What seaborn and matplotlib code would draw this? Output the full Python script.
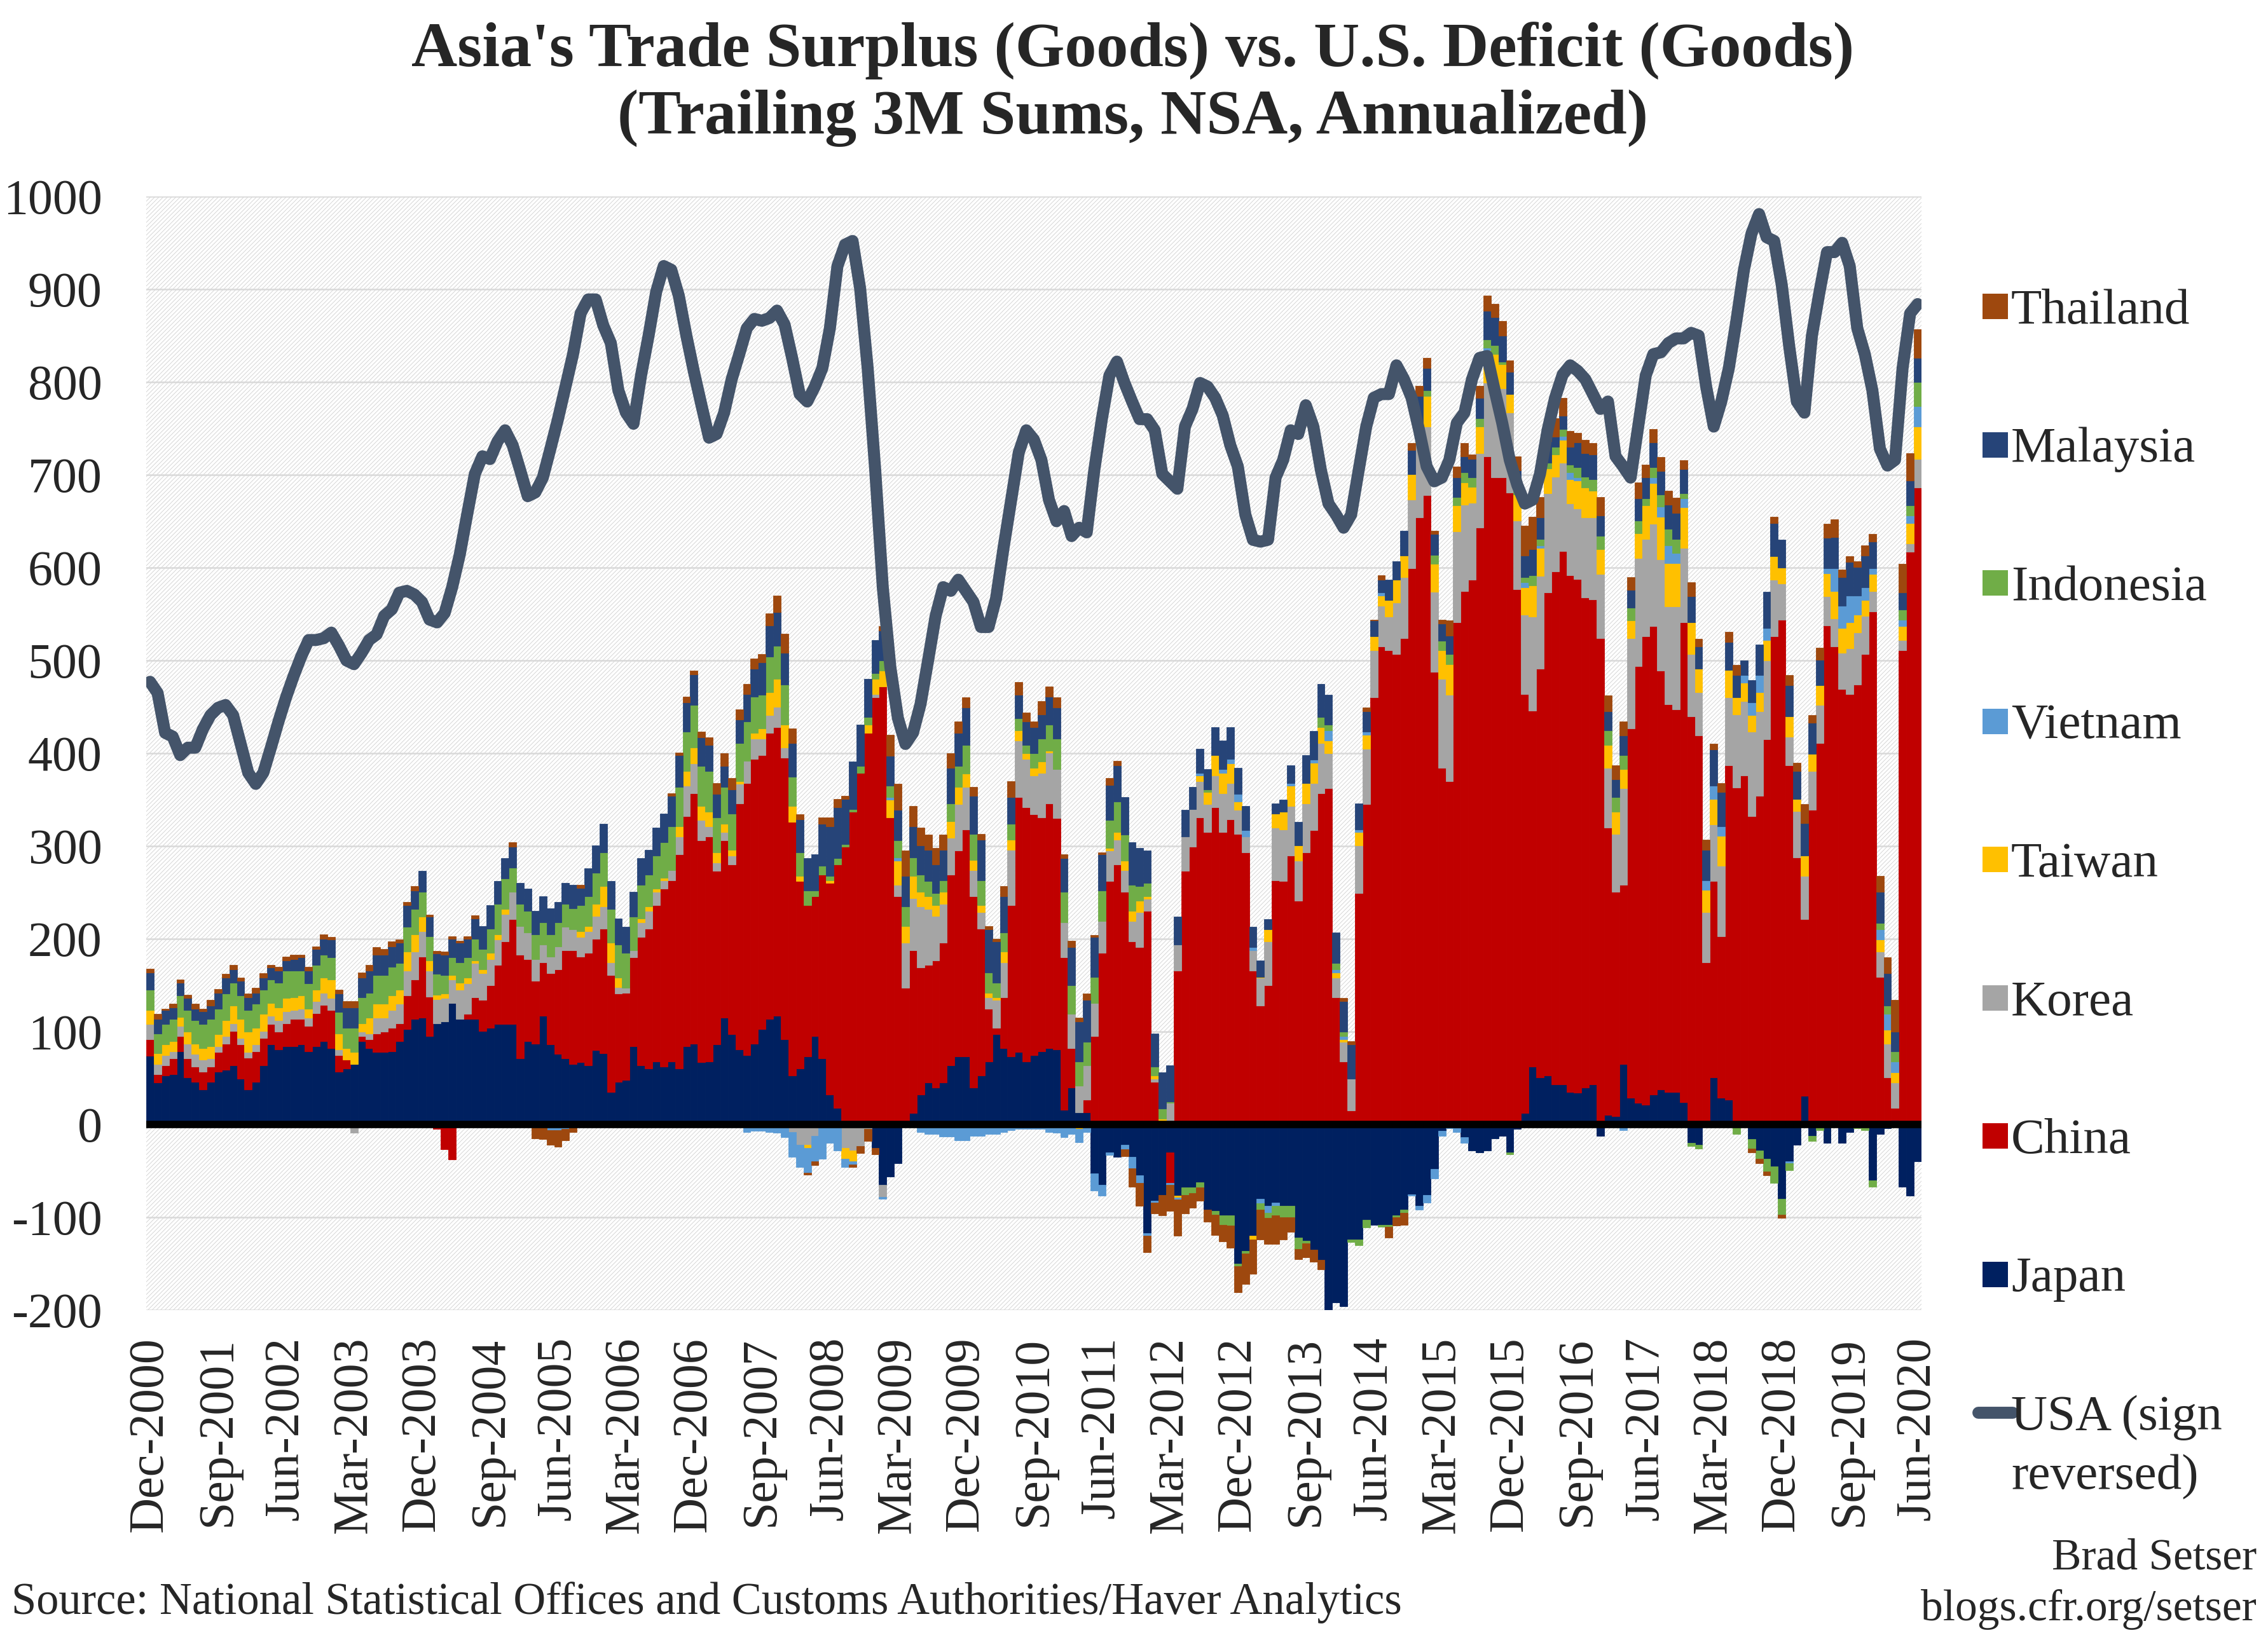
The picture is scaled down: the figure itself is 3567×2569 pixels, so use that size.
import numpy as np
import pandas as pd
import matplotlib.pyplot as plt
from matplotlib.patches import Rectangle
from matplotlib.lines import Line2D
import seaborn as sns

# x axis tick labels (every 9 months, Dec-2000 .. Jun-2020, 235 monthly bars)
tick_labels = ["Dec-2000", "Sep-2001", "Jun-2002", "Mar-2003", "Dec-2003", "Sep-2004",
               "Jun-2005", "Mar-2006", "Dec-2006", "Sep-2007", "Jun-2008", "Mar-2009",
               "Dec-2009", "Sep-2010", "Jun-2011", "Mar-2012", "Dec-2012", "Sep-2013",
               "Jun-2014", "Mar-2015", "Dec-2015", "Sep-2016", "Jun-2017", "Mar-2018",
               "Dec-2018", "Sep-2019", "Jun-2020"]

# trade balances, $bn (trailing 3m sums annualized)
japan = [74, 45, 53, 54, 79, 51, 46, 38, 46, 57, 59, 64, 49, 38, 46, 64, 86, 81, 84, 84,
         86, 79, 84, 90, 82, 57, 60, 65, 90, 82,
         78, 78, 79, 90, 103, 114, 115, 95, 109, 111, 131, 114, 114, 114, 101, 104, 108, 108, 108, 71,
         90, 87, 117, 86, 76, 71, 65, 67, 64, 80,
         77, 35, 46, 48, 84, 64, 60, 68, 62, 68, 60, 84, 87, 67, 68, 86, 115, 97, 81, 75,
         87, 103, 114, 117, 92, 53, 60, 73, 95,
         71, 32, 18, 0, 0, -3, 0, -25, -65, -56, -42, 0, 12, 32, 45, 40, 45, 64, 73, 73,
         40, 53, 68, 97, 82, 73, 78, 68, 75,
         79, 82, 81, 16, 40, 13, 13, -53, -65, -30, -35, -22, -35,
         -55, -117, -82, -76, -30, -77, -68, -68, -62, -92, -93, -98, -98, -150, -136, -120,
         -80, -88, -84, -88, -88, -122, -125, -135, -146, -205, -192, -196, -124, -124, -103, -108,
         -108, -108, -98, -92, -75, -88, -76, -48, -7, 0, -4, -14, -28, -30,
         -28, -15, -12, -30, -5, 12, 62, 51, 53, 43, 43, 35, 34, 40, 43, -12, 10, 9, 65, 29,
         23, 21, 32, 38, 35, 35, 24, -20, -22,
         -3, 51, 29, 27, 0, 0, -16, -28, -37, -45, -80, -40, -22, 31, -12, 0, -20, 5, -20, -8,
         0, 0, -60, -10, -4, 5, -67, -77, -40]

china = [18, 9, 11, 17, 16, 20, 16, 19, 16, 21, 28, 37, 37, 34, 33, 29, 22, 19, 25, 30,
         28, 27, 36, 39, 41, 18, 10, 0, 5, 10,
         20, 22, 25, 19, 36, 42, 66, 43, -5, -27, -38, 0, 5, 23, 33, 46, 64, 89, 113, 112,
         88, 68, 58, 77, 91, 117, 123, 114, 121, 120,
         134, 126, 95, 94, 96, 138, 151, 168, 192, 195, 231, 248, 270, 239, 242, 187, 191, 183, 265, 293,
         307, 295, 308, 311, 303, 273, 202, 163, 151,
         198, 228, 262, 299, 337, 379, 422, 460, 472, 331, 246, 147, 176, 137, 127, 137, 151, 205, 222, 245,
         206, 158, 57, 7, 55, 163, 275, 274, 259,
         252, 264, 249, 164, 42, -3, 14, 95, 185, 262, 280, 251, 197,
         191, 230, 46, 0, -33, 166, 273, 299, 331, 315, 342, 315, 329, 313, 293, 166,
         128, 150, 263, 262, 290, 241, 293, 317, 357, 362, 137, 68, 15, 249, 345, 460,
         515, 511, 507, 524, 599, 654, 678, 488, 384, 370, 541, 575, 587, 643,
         720, 697, 697, 681, 577, 452, 384, 440, 520, 553, 575, 557, 554, 528, 523, 524, 310, 242, 193, 398,
         471, 505, 505, 451, 418, 412, 517, 440, 419,
         175, 211, 174, 360, 363, 376, 332, 354, 415, 526, 544, 387, 288, 190, 339, 411, 538, 510, 469, 464,
         474, 507, 553, 159, 51, 13, 511, 617, 686]

korea = [16, 11, 11, 8, 11, 16, 14, 13, 9, 6, 8, 8, 7, 6, 7, 8, 9, 12, 13, 9,
         11, 9, 13, 13, 13, 6, 0, -9, 5, 6,
         17, 15, 19, 21, 27, 30, 27, 28, 26, 25, 25, 31, 33, 37, 29, 28, 27, 30, 30, 31,
         29, 23, 19, 18, 25, 25, 22, 21, 23, 25,
         24, 14, 7, 5, 8, 16, 19, 15, 9, 11, 19, 33, 32, 22, 11, 9, 9, 10, 21, 24,
         22, 18, 19, 22, 11, -8, -22, -22, -12,
         0, 0, 0, -25, -28, -20, -5, 4, -13, 0, 12, 49, 56, 66, 60, 48, 42, 40, 50, 46,
         28, 18, 12, 30, 38, 60, 61, 52, 42,
         48, 55, 53, 38, 37, 29, 37, 36, 34, 33, 27, 23, 22,
         38, 13, 3, 3, 23, 28, 37, 41, 39, 30, 34, 42, 39, 26, 17, 22,
         30, 47, 57, 56, 53, 43, 53, 51, 54, 38, 21, 21, 34, 52, 60, 51,
         44, 36, 55, 66, 74, 79, 74, 86, 96, 93, 98, 93, 83, 80,
         79, 105, 96, 86, 74, 85, 101, 100, 107, 102, 95, 77, 76, 86, 88, 69, 64, 62, 104, 97,
         116, 105, 110, 120, 105, 111, 80, 67, 47,
         54, 61, 76, 73, 79, 80, 91, 91, 85, 61, 39, 31, 50, 47, 42, 41, 31, 30, 39, 49,
         56, 41, 22, 27, 36, 27, 11, 9, 31]

taiwan = [15, 12, 11, 11, 10, 13, 11, 12, 13, 13, 17, 19, 21, 22, 18, 18, 14, 14, 14, 14,
          14, 10, 12, 16, 20, 17, 12, 13, 9, 17,
          15, 15, 16, 15, 20, 19, 16, 11, 5, 5, 5, 8, 6, 3, 4, 7, 6, 5, 0, -2,
          0, 0, 0, 0, 0, 0, 0, 6, 6, 13,
          22, 21, 10, 0, 0, 4, 5, 3, 3, 0, 11, 16, 17, 15, 16, 11, 9, 6, 3, 0,
          6, 11, 25, 30, 25, 17, 6, -3, 0,
          0, 3, -3, -12, -12, 0, 9, 16, 17, 19, 26, 18, 24, 16, 14, 11, 13, 18, 19, 14,
          11, 7, 5, 3, 11, 11, 11, 6, 8,
          12, 2, 0, 0, 0, -2, 0, 0, 0, 3, 8, 10, 11,
          12, 3, 4, 3, 0, -2, 0, 0, 6, 13, 22, 22, 21, 9, 0, -4,
          1, 13, 15, 19, 22, 17, 22, 22, 17, 14, 6, 3, 0, 14, 15, 15,
          11, 18, 25, 23, 28, 19, 33, 30, 31, 33, 28, 24, 17, 29,
          35, 28, 26, 20, 28, 30, 34, 30, 27, 24, 25, 26, 30, 32, 29, 27, 25, 24, 21, 19,
          27, 36, 44, 46, 47, 47, 44, 34, 25,
          24, 28, 32, 30, 18, 20, 18, 21, 22, 25, 17, 22, 13, 22, 18, 21, 25, 30, 27, 28,
          19, 17, 18, 13, 15, 11, 15, 22, 35]

vietnam = [0] * 30 + \
          [0, 0, 0, 0, 0, 0, 0, 0, 0, 0, 0, 0, 0, 0, 0, 0, 0, 0, 0, 0,
           0, 0, 0, -6, -6, -5, 0, 0, 0, 0,
           0, 0, 0, 0, 0, 0, 0, 0, 0, 0, 0, 0, 0, 0, 0, 0, 0, 0, 0, -8,
           -7, -7, -8, -9, -14, -27, -24, -27, -28,
           -37, -20, -25, -9, -3, 0, 0, 0, -2, 3, 4, 0, -3, -8, -10, -10, -13, -13, -17, -17,
           -12, -12, -10, -10, -8, -6, -5, -5, -5,
           -5, -8, -9, -14, -10, -14, -8, -18, -12, -3, 0, -5, -12,
           -8, -3, -2, 0, -2, -2, 0, 0, 3, 0, 0, 4, 5, 8, 7, 3,
           -5, -7, -4, 0, 3, 0, 0, 3, 0, 11, 3, 3, 0, 3, 3, 0,
           3, 0, 0, 0, -2, -4, -8, -10, -5, -4, -4, -6, 0, 0,
           3, 0, 0, 0, 0, 5, 0, 3, 0, 0, 4, 8, 3, 0, 0, 0, 0, -3, -6, -3,
           0, 0, 6, 11, 19, 11, 10, 0, 0,
           10, 14, 10, 0, 0, 8, 14, 18, 13, 0, 0, -2, 0, 0, 0, 0, 5, 24, 24, 29,
           21, 14, 6, 11, 17, 12, 7, 8, 22]

indonesia = [22, 21, 22, 24, 23, 23, 25, 26, 30, 28, 29, 25, 25, 23, 26, 26, 25, 27, 30, 29,
             27, 27, 27, 25, 24, 23, 22, 26, 28, 27,
             31, 31, 31, 29, 27, 27, 27, 26, 22, 20, 19, 22, 22, 23, 22, 26, 33, 33, 26, 24,
             23, 27, 24, 24, 26, 25, 23, 28, 32, 33,
             36, 36, 36, 38, 36, 36, 34, 36, 38, 47, 43, 42, 46, 43, 44, 38, 40, 39, 41, 42,
             39, 36, 38, 36, 43, 32, 25, 16, 6,
             10, 5, 7, 3, 3, 7, 8, 6, 11, 12, 18, 21, 20, 18, 16, 13, 12, 19, 22, 31,
             28, 27, 22, 16, 21, 17, 13, 9, 16,
             25, 28, 33, 33, 31, 26, 25, 28, 33, 30, 33, 28, 28,
             16, 14, 9, 11, 2, 0, -8, -6, -6, 3, -4, -10, -11, -3, -3, 0,
             -7, -6, -10, -12, -12, -12, -3, 0, 11, 6, 7, 5, -3, -6, -8, 0,
             -2, -2, -2, -3, 0, 0, 6, 10, 10, 11, 9, 11, 10, 9,
             9, 10, 3, -2, 7, 6, 11, 7, 6, 8, 7, 8, 11, 12, 12, 14, 16, 16, 15, 14,
             14, 8, 11, 13, 18, 15, 5, -3, -4,
             0, 0, -2, -2, -10, 0, -10, -9, -14, -18, -17, -7, 0, 0, -6, -6, 0, 0, 0, 0,
             -4, -6, -7, 7, 9, 11, 11, 11, 26]

malaysia = [19, 16, 15, 12, 14, 13, 13, 14, 14, 17, 17, 14, 16, 14, 12, 13, 13, 13, 11, 12,
            14, 14, 17, 17, 19, 20, 22, 22, 21, 24,
            22, 22, 22, 22, 23, 20, 22, 21, 22, 22, 20, 21, 20, 22, 25, 25, 24, 22, 22, 22,
            24, 25, 28, 28, 22, 22, 25, 19, 30, 30,
            31, 30, 28, 28, 27, 29, 27, 30, 31, 33, 34, 32, 33, 31, 28, 25, 22, 26, 25, 30,
            30, 35, 34, 36, 34, 36, 36, 35, 39,
            45, 53, 55, 49, 51, 45, 41, 36, 32, 32, 33, 33, 33, 32, 34, 31, 33, 38, 36, 40,
            41, 44, 46, 44, 39, 29, 25, 25, 28,
            26, 30, 33, 36, 41, 43, 45, 43, 39, 38, 39, 41, 46,
            41, 35, 36, 39, 39, 30, 29, 24, 26, 22, 30, 31, 34, 28, 26, 22,
            18, 11, 11, 13, 19, 25, 30, 31, 36, 32, 33, 33, 37, 28, 22, 17,
            14, 22, 20, 27, 26, 33, 24, 22, 19, 20, 21, 17, 20, 22,
            31, 30, 28, 24, 19, 23, 28, 23, 23, 11, 15, 19, 27, 25, 27, 22, 20, 19, 21, 19,
            24, 22, 27, 25, 26, 28, 26, 28, 24,
            33, 39, 37, 30, 24, 16, 24, 33, 39, 36, 30, 33, 30, 35, 34, 28, 33, 34, 31, 36,
            31, 34, 29, 34, 35, 21, 18, 27, 26]

thailand = [4, 5, 2, 4, 3, 4, 5, 3, 6, 4, 4, 5, 3, 4, 5, 5, 3, 4, 4, 5,
            3, 4, 3, 5, 3, 4, 7, 7, 6, 6,
            8, 6, 5, 3, 4, 5, 0, 2, 3, 3, 3, 2, 3, 3, 0, 0, 0, 0, 5, 0,
            -3, -15, -16, -16, -18, -12, -8, 3, 0, 0,
            0, 0, -3, 0, 0, 0, 0, 0, 0, 3, 3, 6, 4, 6, 8, 12, 14, 12, 11, 11,
            11, 9, 13, 18, 21, 16, 5, -2, -4,
            7, 10, 9, 3, -3, -8, -13, -7, 5, 23, 28, 27, 22, 19, 16, 18, 16, 16, 12, 11,
            10, 6, 4, 3, 11, 17, 14, 10, 6,
            14, 11, 11, 4, 7, 4, 7, 2, 2, 7, 5, -7, -20,
            -25, -18, -12, -22, -28, -39, -20, -16, -14, -13, -22, -18, -24, -28, -33, -37,
            -32, -28, -31, -24, -16, -11, -15, -13, -10, 0, 0, 3, 4, 0, 4, 1,
            5, -12, -9, -13, 7, 11, 11, 4, 4, 16, 12, 14, 5, 13,
            16, 14, 16, 12, 15, 32, 35, 22, 12, 20, 19, 17, 10, 15, 12, 20, 17, 15, 15, 14,
            17, 14, 14, 15, 15, 16, 10, 15, 8,
            11, 6, 10, 11, 11, 0, -4, -5, -4, 7, -4, 11, 9, 20, 8, 13, 15, 19, 8, 6,
            6, 11, 8, 17, 17, 34, 31, 29, 31]

# U.S. goods balance, sign reversed
usa = [477, 465, 422, 418, 398, 406, 406, 426, 441, 449, 452, 441, 410, 379, 367, 379, 406, 434, 460, 483,
       504, 522, 522, 524, 530, 516, 500, 496, 508, 522,
       528, 548, 555, 573, 575, 571, 563, 544, 541, 551, 579, 614, 658, 701, 720, 717, 736, 748, 732, 705,
       677, 681, 697, 728, 760, 795, 830, 874, 889,
       889, 861, 842, 791, 767, 755, 807, 850, 897, 925, 921, 893, 850, 811, 775, 740, 744, 767, 803, 830,
       858, 868, 866, 869, 877, 862, 826, 787, 779, 795,
       815, 858, 925, 948, 952, 901, 815, 705, 579, 493, 438, 410, 422, 453, 500, 548, 579, 575, 587, 575,
       563, 536, 536, 567, 622, 673, 724, 748, 738,
       716, 673, 650, 661, 634, 643, 638, 705, 760, 807, 822, 799, 779, 760, 760, 748, 701, 693, 685, 752,
       771, 799, 795, 783, 764, 732, 709, 657, 630, 628,
       630, 697, 716, 748, 744, 775, 752, 705, 669, 657, 643, 657, 705, 752, 783, 787, 787, 818, 803, 783,
       748, 709, 693, 697, 716, 756, 767, 803, 826, 828,
       791, 756, 716, 689, 669, 673, 701, 748, 783, 808, 818, 812, 803, 787, 771, 779, 720, 709, 697, 752,
       807, 830, 832, 842, 847, 847, 853,
       850, 795, 752, 779, 815, 866, 921, 960, 981, 956, 952, 905, 838, 779, 767, 850, 897, 940, 940, 950,
       925, 858, 830, 791, 728, 710, 716, 815, 874, 884]

countries = ["Japan", "China", "Korea", "Taiwan", "Vietnam", "Indonesia", "Malaysia", "Thailand"]
colors = ["#002060", "#C00000", "#A5A5A5", "#FFC000", "#5B9BD5", "#70AD47", "#264478", "#9E480E"]

df = pd.DataFrame({"Japan": japan, "China": china, "Korea": korea, "Taiwan": taiwan,
                   "Vietnam": vietnam, "Indonesia": indonesia, "Malaysia": malaysia,
                   "Thailand": thailand, "USA": usa})
df["idx"] = np.arange(len(df))

sns.set_theme(style="white")
plt.rcParams["font.family"] = ["Liberation Serif", "DejaVu Serif"]
plt.rcParams["axes.unicode_minus"] = False
plt.rcParams["hatch.linewidth"] = 0.35

W, H = 3567, 2569
fig = plt.figure(figsize=(W / 200, H / 200), dpi=200)
ax = fig.add_axes([230 / W, 1 - 2061 / H, (3022 - 230) / W, (2061 - 309) / H])

# light textured plot background like the Excel pattern fill
ax.add_patch(Rectangle((0, 0), 1, 1, transform=ax.transAxes, facecolor="white",
                       edgecolor="#d6d6d6", hatch="//////////", linewidth=0, zorder=0))

# stacked bars, positives up and negatives down
x = df["idx"].to_numpy()
pos_bottom = np.zeros(len(df))
neg_bottom = np.zeros(len(df))
for name, col in zip(countries, colors):
    v = df[name].to_numpy(dtype=float)
    m = v > 0
    ax.bar(x[m], v[m], width=1.0, bottom=pos_bottom[m], color=col, edgecolor=col, linewidth=0.3, zorder=2)
    pos_bottom[m] += v[m]
    m = v < 0
    ax.bar(x[m], v[m], width=1.0, bottom=neg_bottom[m], color=col, edgecolor=col, linewidth=0.3, zorder=2)
    neg_bottom[m] += v[m]

ax.axhline(0, color="black", linewidth=4.2, zorder=3)

sns.lineplot(data=df, x="idx", y="USA", ax=ax, color="#44546A", linewidth=6.8, zorder=4, legend=False)

ax.set_xlim(-0.5, len(df) - 0.5)
ax.set_ylim(-200, 1000)
ax.set_yticks(range(-200, 1001, 100))
ax.set_xticks(range(0, len(df), 9))
ax.set_xticklabels(tick_labels, rotation=90)
ax.set_xlabel("")
ax.set_ylabel("")
ax.yaxis.grid(True, color="#d9d9d9", linewidth=0.9)
ax.xaxis.grid(False)
ax.set_axisbelow(True)
for s in ax.spines.values():
    s.set_visible(False)
ax.tick_params(axis="y", length=0, pad=25, labelsize=28)
ax.tick_params(axis="x", length=0, pad=15, labelsize=28)

# title
fig.text(0.4994, 1 - 80 / H, "Asia's Trade Surplus (Goods) vs. U.S. Deficit (Goods)",
         ha="center", va="center", fontsize=36, fontweight="bold")
fig.text(0.4994, 1 - 186 / H, "(Trailing 3M Sums, NSA, Annualized)",
         ha="center", va="center", fontsize=36, fontweight="bold")

# legend drawn by hand to keep Excel's spacing
leg_names = ["Thailand", "Malaysia", "Indonesia", "Vietnam", "Taiwan", "Korea", "China", "Japan"]
leg_colors = dict(zip(countries, colors))
for k, name in enumerate(leg_names):
    yc = 482 + 217.5 * k
    fig.add_artist(Rectangle((3118 / W, 1 - (yc + 20) / H), 40 / W, 40 / H,
                             transform=fig.transFigure, facecolor=leg_colors[name], edgecolor="none"))
    fig.text(3163 / W, 1 - (yc + 27) / H, name, ha="left", va="baseline", fontsize=28.5)
yc = 482 + 217.5 * 8
fig.add_artist(Line2D([3111 / W, 3165 / W], [1 - yc / H, 1 - yc / H], transform=fig.transFigure,
                      color="#44546A", linewidth=6.8))
fig.text(3163 / W, 1 - (yc + 27) / H, "USA (sign", ha="left", va="baseline", fontsize=28.5)
fig.text(3163 / W, 1 - (yc + 120) / H, "reversed)", ha="left", va="baseline", fontsize=28.5)

# notes
fig.text(18 / W, 1 - 2521 / H, "Source: National Statistical Offices and Customs Authorities/Haver Analytics",
         ha="left", va="center", fontsize=25.4)
fig.text(3549 / W, 1 - 2452 / H, "Brad Setser", ha="right", va="center", fontsize=25)
fig.text(3549 / W, 1 - 2532 / H, "blogs.cfr.org/setser", ha="right", va="center", fontsize=25)

fig.savefig("out.png", dpi=200)
